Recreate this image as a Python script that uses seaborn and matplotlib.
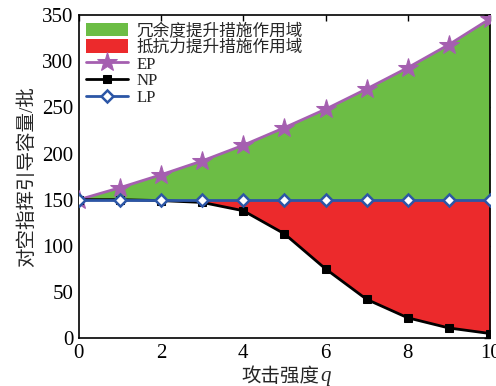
import matplotlib
matplotlib.use("Agg")
import matplotlib.pyplot as plt
import seaborn as sns
import pandas as pd
import numpy as np

q = [0, 1, 2, 3, 4, 5, 6, 7, 8, 9, 10]
ep = [150, 163, 177, 192, 209, 228, 248, 270, 293, 318, 346]
np_vals = [150, 150, 149, 147, 138, 113, 75, 42, 22, 11, 5]
lp = [150, 150, 150, 150, 150, 150, 150, 150, 150, 150, 150]
xticks = [0, 2, 4, 6, 8, 10]
yticks = [0, 50, 100, 150, 200, 250, 300, 350]

sns.set_theme(style="white")
plt.rcParams['font.family'] = ['Liberation Serif', 'Noto Sans CJK SC']

df = pd.DataFrame({"q": q, "EP": ep, "NP": np_vals, "LP": lp})

fig = plt.figure(figsize=(4.96, 3.86), dpi=100)
ax = fig.add_axes([0.159, 0.124, 0.829, 0.837])

green = "#6cbd45"
red = "#ec2a2c"
purple = "#a55fb0"
blue = "#2c56a6"

ax.fill_between(df["q"], df["LP"], df["EP"], facecolor=green, edgecolor="#333333",
                label="冗余度提升措施作用域", zorder=1, linewidth=0)
ax.fill_between(df["q"], df["NP"], df["LP"], facecolor=red, edgecolor="#333333",
                label="抵抗力提升措施作用域", zorder=1, linewidth=0)

sns.lineplot(data=df, x="q", y="EP", ax=ax, color=purple, marker="*", markersize=15,
             markeredgecolor=purple, linewidth=2, label="EP", zorder=3)
sns.lineplot(data=df, x="q", y="NP", ax=ax, color="black", marker="s", markersize=6,
             markeredgecolor="black", linewidth=2, label="NP", zorder=3)
sns.lineplot(data=df, x="q", y="LP", ax=ax, color=blue, marker="D", markersize=6,
             markerfacecolor="white", markeredgecolor=blue, markeredgewidth=1.8,
             linewidth=2, label="LP", zorder=4)

ax.set_xlim(0, 10)
ax.set_ylim(0, 350)
ax.set_xticks(xticks)
ax.set_yticks(yticks)
ax.tick_params(direction="in", top=True, right=True, length=4, width=1,
               labelsize=15, colors="black", pad=4)
ax.tick_params(axis="x", labeltop=False)
ax.tick_params(axis="y", labelright=False)
for s in ax.spines.values():
    s.set_visible(True)
    s.set_color("black")
    s.set_linewidth(1.2)

ax.set_xlabel("攻击强度", fontsize=14, labelpad=1)
ax.xaxis.set_label_coords(0.49, -0.09)
ax.annotate("q", xy=(1, 0), xycoords=ax.xaxis.label, xytext=(1, 0),
            textcoords="offset points", fontsize=15, style="italic",
            family="Liberation Serif", ha="left", va="bottom", annotation_clip=False)
ax.set_ylabel("对空指挥引导容量/批", fontsize=14, labelpad=4)

leg = ax.legend(loc="upper left", frameon=False, fontsize=12, handlelength=2.5,
                handleheight=0.9, handletextpad=0.5, labelspacing=0.0,
                borderaxespad=0.15, borderpad=0.3)

fig.savefig("out.png", dpi=100)
